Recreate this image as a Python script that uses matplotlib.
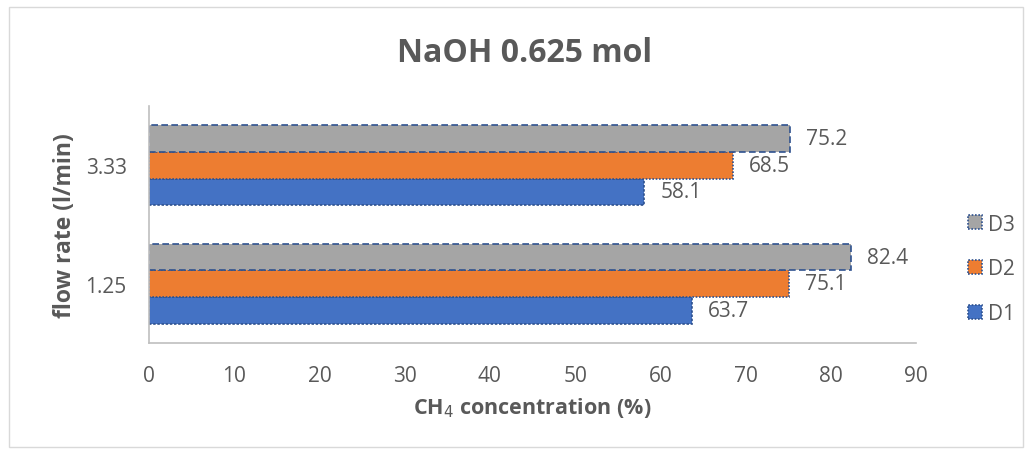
import numpy as np
import matplotlib
matplotlib.use('Agg')
import matplotlib.pyplot as plt
from matplotlib.patches import Rectangle, Patch

plt.rcParams['font.family'] = ['Open Sans', 'DejaVu Sans']

# data
flow_rates = ['1.25', '3.33']
series = ['D1', 'D2', 'D3']
d1 = [63.7, 58.1]
d2 = [75.1, 68.5]
d3 = [82.4, 75.2]

colors = ['#4472C4', '#ED7D31', '#A5A5A5']
edge = '#2F528F'
styles = [(0, (1.5, 1)), (0, (1, 1)), (0, (4, 2))]
txt = '#595959'

fig = plt.figure(figsize=(10.32, 4.56), dpi=100)
fig.patches.append(Rectangle((0.009, 0.017), 0.982, 0.965, transform=fig.transFigure,
                             fill=False, edgecolor='#D9D9D9', lw=1))
ax = fig.add_axes([149/1032, 1-344/456, (916-149)/1032, (344-107)/456])

y = np.arange(len(flow_rates))
h = 0.225
for i, vals in enumerate([d1, d2, d3]):
    pos = y + (i - 1) * h
    ax.barh(pos, vals, height=h, color=colors[i], edgecolor=edge,
            linewidth=1.2, linestyle=styles[i], label=series[i])
    for p, v in zip(pos, vals):
        ax.text(v + 1.9, p, f'{v:.1f}', va='center', ha='left', fontsize=15, color=txt)

ax.set_xlim(0, 90)
ax.set_ylim(-0.5, 1.5)
ax.set_xticks(np.arange(0, 91, 10))
ax.set_yticks(y)
ax.set_yticklabels(flow_rates)
ax.tick_params(length=0, labelsize=15, colors=txt)
ax.tick_params(axis='y', pad=16)
ax.tick_params(axis='x', pad=16)
for s in ['top', 'right']:
    ax.spines[s].set_visible(False)
for s in ['left', 'bottom']:
    ax.spines[s].set_color('#BFBFBF')
    ax.spines[s].set_linewidth(1.2)

ax.set_xlabel('CH$_4$ concentration (%)', fontsize=15.5, fontweight='bold', color=txt, labelpad=6)
ax.set_ylabel('flow rate (l/min)', fontsize=16.5, fontweight='bold', color=txt)
ax.yaxis.set_label_coords(-0.094, 0.5)
fig.text(525/1032, 1-53/456, 'NaOH 0.625 mol', ha='center', va='center', fontsize=23,
         fontweight='bold', color=txt)

handles = [Patch(facecolor=colors[i], edgecolor=edge, linestyle=(0, (1, 1)), linewidth=1.2,
                 label=series[i]) for i in [2, 1, 0]]
leg = ax.legend(handles=handles, loc='center left', bbox_to_anchor=(968/1032, 1-270/456),
                bbox_transform=fig.transFigure, frameon=False, fontsize=15, borderpad=0,
                borderaxespad=0, handlelength=0.67, handleheight=0.67, handletextpad=0.3,
                labelspacing=1.15)
for t in leg.get_texts():
    t.set_color(txt)

fig.savefig('out.png', dpi=100)
